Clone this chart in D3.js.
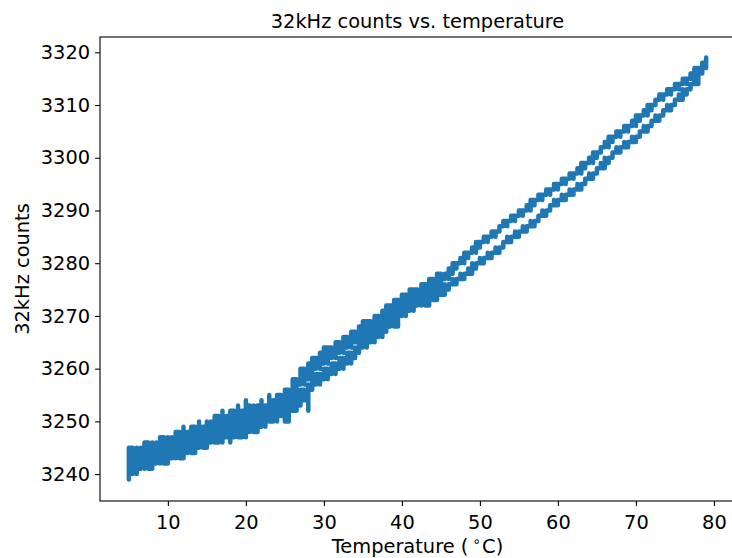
<!DOCTYPE html>
<html>
<head>
<meta charset="utf-8">
<script src="https://cdn.jsdelivr.net/npm/d3@7"></script>
<style>
  body { margin: 0; background: #fff; }
  svg { display: block; font-family: "DejaVu Sans", sans-serif; }
</style>
</head>
<body>
<div id="chart"></div>
<script>
// temperature (°C) followed by the counts read at that temperature, in time order
const heatRows = [
  [5, 3242, 3239, 3243, 3240, 3242], [5.5, 3241, 3243, 3240, 3242], [6, 3242, 3240, 3243, 3241],
  [6.5, 3241, 3243, 3242], [7, 3243, 3241, 3242, 3244], [7.5, 3242, 3244, 3241],
  [8, 3243, 3241, 3244, 3242], [8.5, 3242, 3244, 3243], [9, 3244, 3242, 3243],
  [9.5, 3243, 3245, 3242], [10, 3244, 3242, 3245, 3243], [10.5, 3243, 3245, 3244],
  [11, 3245, 3243, 3246], [11.5, 3244, 3246, 3243], [12, 3245, 3243, 3246, 3244],
  [12.5, 3246, 3244, 3247], [13, 3245, 3247, 3244], [13.5, 3246, 3244, 3247, 3245],
  [14, 3247, 3245, 3246], [14.5, 3246, 3248, 3245], [15, 3247, 3245, 3248, 3246],
  [15.5, 3248, 3246, 3247], [16, 3247, 3249, 3246], [16.5, 3248, 3246, 3249, 3247],
  [17, 3249, 3246, 3248], [17.5, 3248, 3250, 3247], [18, 3249, 3246, 3250, 3248],
  [18.5, 3250, 3247, 3249], [19, 3249, 3251, 3247], [19.5, 3250, 3248, 3251, 3249],
  [20, 3250, 3247, 3251, 3249], [20.5, 3251, 3248, 3250], [21, 3250, 3252, 3248],
  [21.5, 3251, 3249, 3252, 3250], [22, 3251, 3249, 3252], [22.5, 3252, 3249, 3251],
  [23, 3251, 3253, 3250], [23.5, 3252, 3250, 3253], [24, 3253, 3250, 3252],
  [24.5, 3252, 3254, 3251], [25, 3253, 3251, 3254, 3250], [25.5, 3254, 3251, 3253],
  [26, 3253, 3255, 3252], [26.5, 3254, 3253, 3255], [27, 3255, 3253, 3256],
  [27.5, 3256, 3254, 3255], [28, 3257, 3252, 3256], [28.5, 3258, 3256, 3257],
  [29, 3258, 3257, 3259], [29.5, 3259, 3257, 3258], [30, 3259, 3258, 3260],
  [30.5, 3260, 3258, 3259], [31, 3260, 3259, 3261], [31.5, 3261, 3259, 3260],
  [32, 3261, 3260, 3262], [32.5, 3262, 3260, 3261], [33, 3262, 3261, 3263],
  [33.5, 3263, 3261, 3262], [34, 3264, 3262, 3263], [34.5, 3264, 3263, 3265],
  [35, 3265, 3264, 3266], [35.5, 3265, 3264, 3266], [36, 3266, 3265, 3267],
  [36.5, 3266, 3265, 3267], [37, 3267, 3266, 3268], [37.5, 3267, 3266, 3268],
  [38, 3268, 3267, 3269], [38.5, 3269, 3268, 3270], [39, 3269, 3270, 3268],
  [39.5, 3270, 3269, 3271], [40, 3271, 3270, 3272], [40.5, 3271, 3270, 3272],
  [41, 3272, 3271, 3273], [41.5, 3272, 3271, 3273], [42, 3273, 3272, 3274],
  [42.5, 3273, 3272, 3274], [43, 3273, 3274, 3272], [43.5, 3274, 3273, 3275],
  [44, 3274, 3275, 3273], [44.5, 3275, 3274, 3276], [45, 3275, 3276, 3274],
  [45.5, 3275, 3276, 3275], [46, 3276, 3275, 3276], [46.5, 3276, 3277, 3276],
  [47, 3277, 3276, 3277], [47.5, 3277, 3278, 3277], [48, 3278, 3277, 3278],
  [48.5, 3278, 3279, 3278], [49, 3279, 3280, 3279], [49.5, 3280, 3279, 3280],
  [50, 3280, 3281, 3280], [50.5, 3281, 3280, 3281], [51, 3281, 3282, 3281],
  [51.5, 3282, 3281, 3282], [52, 3282, 3283, 3282], [52.5, 3283, 3282, 3283],
  [53, 3284, 3283, 3284], [53.5, 3284, 3285, 3284], [54, 3285, 3284, 3285],
  [54.5, 3285, 3286, 3285], [55, 3286, 3285, 3286], [55.5, 3286, 3287, 3286],
  [56, 3287, 3286, 3287], [56.5, 3287, 3288, 3287], [57, 3288, 3287, 3288],
  [57.5, 3289, 3288, 3289], [58, 3289, 3290, 3289], [58.5, 3290, 3289, 3290],
  [59, 3291, 3290, 3291], [59.5, 3291, 3292, 3291], [60, 3292, 3291, 3292],
  [60.5, 3292, 3293, 3292], [61, 3293, 3292, 3293], [61.5, 3293, 3294, 3293],
  [62, 3294, 3293, 3294], [62.5, 3294, 3295, 3294], [63, 3295, 3294, 3295],
  [63.5, 3296, 3295, 3296], [64, 3296, 3297, 3296], [64.5, 3297, 3296, 3297],
  [65, 3298, 3297, 3298], [65.5, 3298, 3299, 3298], [66, 3299, 3300, 3299],
  [66.5, 3300, 3299, 3300], [67, 3301, 3300, 3301], [67.5, 3301, 3302, 3301],
  [68, 3302, 3301, 3302], [68.5, 3302, 3303, 3302], [69, 3303, 3302, 3303],
  [69.5, 3303, 3304, 3303], [70, 3304, 3303, 3304], [70.5, 3305, 3304, 3305],
  [71, 3305, 3306, 3305], [71.5, 3306, 3305, 3306], [72, 3307, 3306, 3307],
  [72.5, 3307, 3308, 3307], [73, 3308, 3307, 3308], [73.5, 3309, 3308, 3309],
  [74, 3309, 3310, 3309], [74.5, 3310, 3309, 3310], [75, 3311, 3310, 3311],
  [75.5, 3311, 3312, 3311], [76, 3312, 3313, 3312], [76.5, 3313, 3312, 3313],
  [77, 3314, 3313, 3314], [77.5, 3314, 3315, 3314], [78, 3316, 3315, 3316],
  [78.5, 3317, 3316, 3317], [79, 3318, 3317, 3319, 3318]
];

// cooling branch, listed by rising temperature (drawn from 79 back down to 5)
const coolRows = [
  [5, 3243, 3245, 3242, 3244], [5.5, 3244, 3242, 3245], [6, 3243, 3245, 3244],
  [6.5, 3245, 3243, 3244], [7, 3244, 3246, 3243], [7.5, 3245, 3243, 3246],
  [8, 3244, 3246, 3245], [8.5, 3246, 3244, 3245], [9, 3245, 3247, 3244],
  [9.5, 3246, 3244, 3247], [10, 3245, 3247, 3246], [10.5, 3247, 3245, 3246],
  [11, 3246, 3248, 3245], [11.5, 3247, 3245, 3248], [12, 3246, 3249, 3247],
  [12.5, 3248, 3246, 3247], [13, 3247, 3249, 3248], [13.5, 3248, 3246, 3249],
  [14, 3247, 3250, 3248], [14.5, 3249, 3247, 3248], [15, 3248, 3250, 3249],
  [15.5, 3250, 3248, 3249], [16, 3249, 3251, 3248], [16.5, 3250, 3248, 3251],
  [17, 3249, 3252, 3250], [17.5, 3251, 3249, 3250], [18, 3250, 3252, 3251],
  [18.5, 3251, 3249, 3252], [19, 3250, 3253, 3251], [19.5, 3252, 3250, 3251],
  [20, 3251, 3254, 3252], [20.5, 3252, 3250, 3253], [21, 3251, 3253, 3252],
  [21.5, 3253, 3251, 3252], [22, 3252, 3254, 3253], [22.5, 3253, 3251, 3252],
  [23, 3252, 3255, 3253], [23.5, 3254, 3252, 3253], [24, 3253, 3255, 3254],
  [24.5, 3254, 3252, 3255], [25, 3254, 3256, 3253], [25.5, 3255, 3253, 3256],
  [26, 3255, 3257, 3254], [26.5, 3257, 3255, 3258], [27, 3258, 3259, 3257],
  [27.5, 3259, 3257, 3260], [28, 3259, 3261, 3258], [28.5, 3260, 3258, 3261],
  [29, 3261, 3260, 3262], [29.5, 3261, 3260, 3262], [30, 3262, 3261, 3263],
  [30.5, 3263, 3261, 3264], [31, 3263, 3262, 3264], [31.5, 3264, 3262, 3263],
  [32, 3264, 3263, 3265], [32.5, 3265, 3263, 3264], [33, 3265, 3264, 3266],
  [33.5, 3266, 3264, 3265], [34, 3266, 3265, 3267], [34.5, 3267, 3265, 3266],
  [35, 3267, 3266, 3268], [35.5, 3268, 3266, 3269], [36, 3268, 3267, 3269],
  [36.5, 3269, 3267, 3268], [37, 3269, 3268, 3270], [37.5, 3270, 3268, 3269],
  [38, 3270, 3269, 3271], [38.5, 3271, 3270, 3272], [39, 3271, 3270, 3272],
  [39.5, 3272, 3271, 3273], [40, 3272, 3271, 3273], [40.5, 3273, 3272, 3274],
  [41, 3273, 3272, 3274], [41.5, 3274, 3273, 3275], [42, 3274, 3273, 3275],
  [42.5, 3274, 3275, 3273], [43, 3275, 3274, 3276], [43.5, 3275, 3274, 3276],
  [44, 3276, 3275, 3277], [44.5, 3276, 3277, 3275], [45, 3277, 3276, 3278],
  [45.5, 3277, 3278, 3277], [46, 3278, 3277, 3278], [46.5, 3279, 3278, 3279],
  [47, 3280, 3279, 3280], [47.5, 3280, 3281, 3280], [48, 3281, 3280, 3281],
  [48.5, 3282, 3281, 3282], [49, 3282, 3283, 3282], [49.5, 3283, 3282, 3283],
  [50, 3284, 3283, 3284], [50.5, 3284, 3285, 3284], [51, 3285, 3284, 3285],
  [51.5, 3285, 3286, 3285], [52, 3286, 3285, 3286], [52.5, 3286, 3287, 3286],
  [53, 3287, 3288, 3287], [53.5, 3288, 3287, 3288], [54, 3288, 3289, 3288],
  [54.5, 3289, 3288, 3289], [55, 3289, 3290, 3289], [55.5, 3290, 3289, 3290],
  [56, 3290, 3291, 3290], [56.5, 3291, 3290, 3291], [57, 3292, 3291, 3292],
  [57.5, 3292, 3293, 3292], [58, 3293, 3292, 3293], [58.5, 3293, 3294, 3293],
  [59, 3294, 3293, 3294], [59.5, 3294, 3295, 3294], [60, 3295, 3294, 3295],
  [60.5, 3295, 3296, 3295], [61, 3296, 3295, 3296], [61.5, 3296, 3297, 3296],
  [62, 3297, 3296, 3297], [62.5, 3297, 3298, 3297], [63, 3298, 3297, 3298],
  [63.5, 3299, 3298, 3299], [64, 3299, 3300, 3299], [64.5, 3300, 3299, 3300],
  [65, 3301, 3300, 3301], [65.5, 3301, 3302, 3301], [66, 3302, 3303, 3302],
  [66.5, 3303, 3302, 3303], [67, 3304, 3303, 3304], [67.5, 3304, 3305, 3304],
  [68, 3305, 3304, 3305], [68.5, 3305, 3306, 3305], [69, 3306, 3305, 3306],
  [69.5, 3306, 3307, 3306], [70, 3307, 3306, 3307], [70.5, 3308, 3307, 3308],
  [71, 3308, 3309, 3308], [71.5, 3309, 3308, 3309], [72, 3310, 3309, 3310],
  [72.5, 3310, 3311, 3310], [73, 3311, 3312, 3311], [73.5, 3312, 3311, 3312],
  [74, 3312, 3313, 3312], [74.5, 3313, 3312, 3313], [75, 3313, 3314, 3313],
  [75.5, 3314, 3313, 3314], [76, 3314, 3315, 3314], [76.5, 3315, 3314, 3315],
  [77, 3315, 3316, 3315], [77.5, 3316, 3315, 3316], [78, 3317, 3316, 3317],
  [78.5, 3317, 3318, 3317], [79, 3318, 3319, 3318]
];

const xTicks = [10, 20, 30, 40, 50, 60, 70, 80];
const yTicks = [3240, 3250, 3260, 3270, 3280, 3290, 3300, 3310, 3320];

const width = 732, height = 558;
const margin = { top: 37, right: -3, bottom: 57, left: 100 };
const fontSize = 19.4;

const svg = d3.select("#chart").append("svg")
  .attr("width", width)
  .attr("height", height);

svg.append("rect").attr("width", width).attr("height", height).attr("fill", "#fff");

const x = d3.scaleLinear().domain([1.3, 82.7]).range([margin.left, width - margin.right]);
const y = d3.scaleLinear().domain([3234.9, 3322.9]).range([height - margin.bottom, margin.top]);

// one continuous trace: heating up, then cooling back down
const toPoints = rows => rows.flatMap(r => r.slice(1).map(c => ({ t: r[0], c: c })));
const trace = toPoints(heatRows).concat(toPoints(coolRows.slice().reverse()));

const line = d3.line()
  .x(d => x(d.t))
  .y(d => y(d.c))
  .curve(d3.curveStepAfter);

svg.append("path")
  .datum(trace)
  .attr("fill", "none")
  .attr("stroke", "#1f77b4")
  .attr("stroke-width", 4.5)
  .attr("stroke-linejoin", "round")
  .attr("d", line);

// axes
const xAxis = svg.append("g")
  .attr("transform", `translate(0,${height - margin.bottom})`)
  .call(d3.axisBottom(x).tickValues(xTicks).tickSize(4.9).tickPadding(9));
const yAxis = svg.append("g")
  .attr("transform", `translate(${margin.left},0)`)
  .call(d3.axisLeft(y).tickValues(yTicks).tickFormat(d3.format("d")).tickSize(4.9).tickPadding(5));

[xAxis, yAxis].forEach(g => {
  g.select(".domain").remove();
  g.selectAll(".tick line").attr("stroke", "#000").attr("stroke-width", 1.1);
  g.selectAll(".tick text")
    .attr("fill", "#000")
    .style("font-size", fontSize + "px")
    .style("font-family", "DejaVu Sans, sans-serif");
});

// frame
svg.append("rect")
  .attr("x", margin.left)
  .attr("y", margin.top)
  .attr("width", width - margin.right - margin.left)
  .attr("height", height - margin.bottom - margin.top)
  .attr("fill", "none")
  .attr("stroke", "#000")
  .attr("stroke-width", 1.1);

// labels
svg.append("text")
  .attr("x", (margin.left + width - margin.right) / 2)
  .attr("y", 28)
  .attr("text-anchor", "middle")
  .style("font-size", fontSize + "px")
  .text("32kHz counts vs. temperature");

const xl = svg.append("text")
  .attr("x", (margin.left + width - margin.right) / 2)
  .attr("y", 553)
  .attr("text-anchor", "middle")
  .style("font-size", fontSize + "px");
xl.append("tspan").text("Temperature (");
xl.append("tspan").attr("dx", 4).attr("dy", -7).style("font-size", "14px").text("\u2218");
xl.append("tspan").attr("dx", 1).attr("dy", 7).text("C)");

svg.append("text")
  .attr("transform", `translate(29,${(margin.top + height - margin.bottom) / 2}) rotate(-90)`)
  .attr("text-anchor", "middle")
  .style("font-size", fontSize + "px")
  .text("32kHz counts");
</script>
</body>
</html>
